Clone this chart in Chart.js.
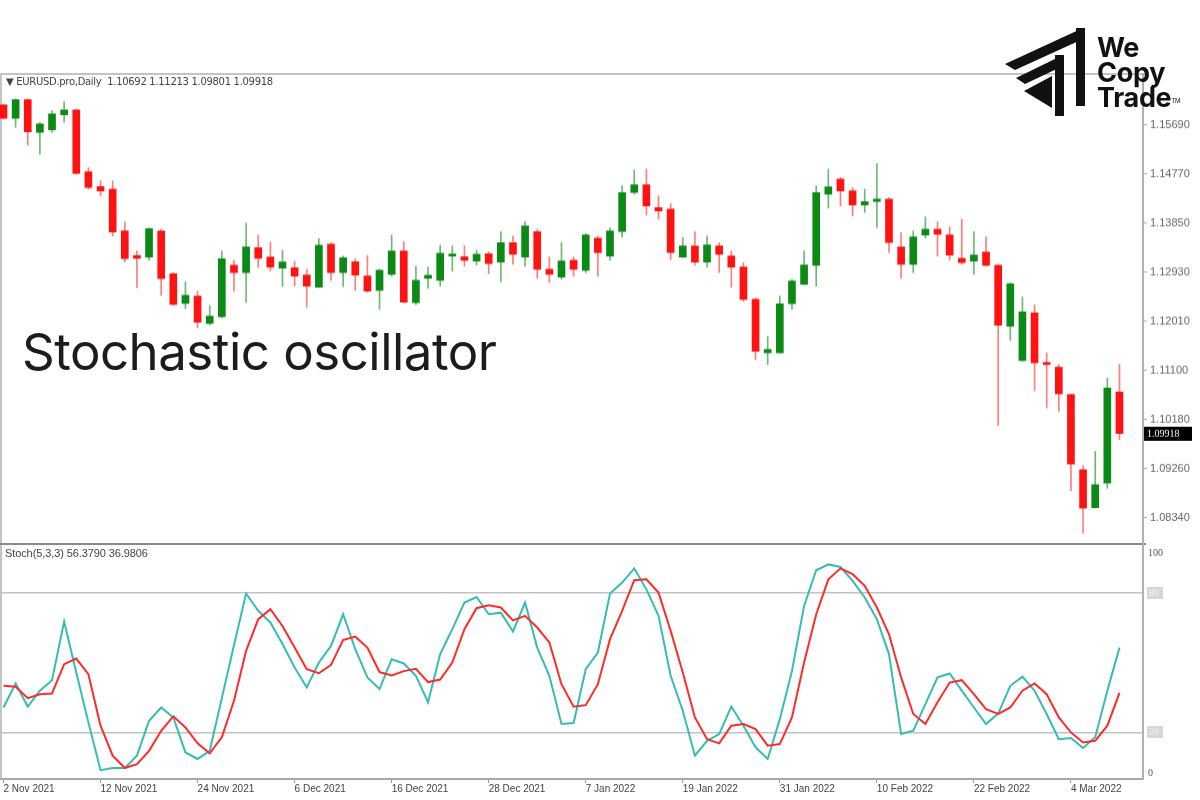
<!DOCTYPE html>
<html><head><meta charset="utf-8">
<script src="https://cdn.jsdelivr.net/npm/chart.js@4/dist/chart.umd.min.js"></script>
<style>
html,body{margin:0;padding:0;background:#fff;width:1200px;height:800px;overflow:hidden;font-family:'Liberation Sans',Arial,sans-serif;}
#c1{position:absolute;left:0;top:75px;}
#c2{position:absolute;left:0;top:546px;}
.frameTop{position:absolute;left:0;top:73px;width:1145px;height:2px;background:#c4c4c4;}
.frameLeft{position:absolute;left:0;top:73px;width:2px;height:707px;background:#c4c4c4;}
.frameRight{position:absolute;left:1142px;top:73px;width:2px;height:707px;background:#b0b0b0;}
.sep{position:absolute;left:0;top:543px;width:1146px;height:2px;background:#8a8a8a;}
#hdr{position:absolute;left:6px;top:76px;font-size:10px;color:#444;white-space:nowrap;font-family:'DejaVu Sans',sans-serif;letter-spacing:-0.3px;}
#shdr{position:absolute;left:5px;top:547px;font-size:11px;color:#444;white-space:nowrap;font-family:'Liberation Sans',sans-serif;letter-spacing:-0.1px;}
#big{position:absolute;left:22px;top:326px;font-family:'Inter',sans-serif;font-weight:400;color:#1c1c1c;white-space:nowrap;line-height:1;font-size:51px;}
#logoTxt{position:absolute;left:1097px;top:35px;font-family:'Inter',sans-serif;font-weight:700;color:#111;font-size:27px;line-height:25px;letter-spacing:-0.3px;}
#logoTxt sup{font-size:6px;vertical-align:top;position:relative;top:3px;font-weight:400;}
#logo{position:absolute;left:1000px;top:24px;}
</style></head>
<body>
<div class="frameTop"></div>
<div class="frameLeft"></div>
<canvas id="c1" width="1200" height="468"></canvas>
<canvas id="c2" width="1200" height="254"></canvas>
<div class="sep"></div>
<div class="frameRight"></div>
<div id="hdr">&#9660; EURUSD.pro,Daily&nbsp; 1.10692 1.11213 1.09801 1.09918</div>
<div id="shdr">Stoch(5,3,3) 56.3790 36.9806</div>
<div id="big">Stochastic oscillator</div>
<svg id="logo" width="92" height="96" viewBox="0 0 92 96">
  <polygon points="5,40 83,4 83,15 15,46" fill="#111"/>
  <polygon points="76,4 85,4 85,82 76,82" fill="#111"/>
  <polygon points="16,54 63,31 63,42 25,60" fill="#111"/>
  <polygon points="55,31 64,31 64,92 55,92" fill="#111"/>
  <polygon points="24,67 52,52 52,84" fill="#111"/>
</svg>
<div id="logoTxt">We<br>Copy<br>Trade<sup>TM</sup></div>
<script>
// ---- data ----
const tickLabels = ['2 Nov 2021','12 Nov 2021','24 Nov 2021','6 Dec 2021','16 Dec 2021','28 Dec 2021','7 Jan 2022','19 Jan 2022','31 Jan 2022','10 Feb 2022','22 Feb 2022','4 Mar 2022'];
const tickIndex = [0,8,16,24,32,40,48,56,64,72,80,88];
const priceTicks = [1.15690,1.14770,1.13850,1.12930,1.12010,1.11100,1.10180,1.09260,1.08340];
const opens = [1.16059,1.15809,1.16159,1.15546,1.15596,1.15877,1.15965,1.14809,1.14534,1.14484,
1.13703,1.13247,1.13216,1.13703,1.12904,1.12348,1.12485,1.11973,1.12098,1.13060,
1.12923,1.13391,1.13216,1.13010,1.13016,1.12879,1.12654,1.13454,1.12923,1.13129,
1.12860,1.12591,1.12891,1.13329,1.12360,1.12816,1.12779,1.13235,1.13223,1.13141,
1.13279,1.13123,1.13485,1.13216,1.13691,1.12985,1.12841,1.13154,1.12966,1.13566,
1.13235,1.13691,1.14422,1.14566,1.14141,1.14110,1.13216,1.13422,1.13123,1.13422,
1.13235,1.13029,1.12423,1.11423,1.11423,1.12342,1.12704,1.13060,1.14391,1.14672,
1.14453,1.14191,1.14253,1.14297,1.13404,1.13079,1.13629,1.13735,1.13629,1.13191,
1.13141,1.13310,1.13060,1.11923,1.11280,1.12173,1.11236,1.11155,1.10643,1.09237,
1.08531,1.08987,1.10692];
const highs = [1.16077,1.16171,1.16171,1.15734,1.15952,1.16121,1.15984,1.14890,1.14641,1.14641,
1.13872,1.13329,1.13766,1.13735,1.12923,1.12754,1.12579,1.12310,1.13329,1.13160,
1.13847,1.13622,1.13497,1.13341,1.13135,1.12985,1.13560,1.13485,1.13235,1.13185,
1.13247,1.12985,1.13622,1.13504,1.13048,1.13029,1.13435,1.13423,1.13423,1.13341,
1.13316,1.13691,1.13610,1.13878,1.13735,1.13216,1.13485,1.13216,1.13654,1.13610,
1.13766,1.14547,1.14841,1.14859,1.14360,1.14216,1.13579,1.13691,1.13610,1.13485,
1.13329,1.13110,1.12454,1.11736,1.12485,1.12798,1.13329,1.14547,1.14859,1.14703,
1.14516,1.14484,1.14965,1.14328,1.13672,1.13704,1.13966,1.13879,1.13779,1.13922,
1.13691,1.13591,1.13079,1.12736,1.12467,1.12317,1.11423,1.11205,1.10655,1.09318,
1.09580,1.10955,1.11213];
const lows = [1.15796,1.15640,1.15309,1.15140,1.15546,1.15734,1.14765,1.14484,1.14360,1.13610,
1.13123,1.12641,1.13160,1.12498,1.12310,1.12248,1.11892,1.11948,1.12079,1.12579,
1.12360,1.13016,1.12954,1.12660,1.12673,1.12279,1.12641,1.12779,1.12660,1.12598,
1.12560,1.12235,1.12860,1.12360,1.12323,1.12629,1.12673,1.12954,1.13048,1.13066,
1.12904,1.12754,1.13079,1.13048,1.12816,1.12735,1.12798,1.12860,1.12923,1.12860,
1.13154,1.13591,1.14391,1.14003,1.13922,1.13173,1.13204,1.13066,1.13029,1.12923,
1.12654,1.12392,1.11298,1.11205,1.11423,1.12236,1.12704,1.12673,1.14128,1.14172,
1.13985,1.14047,1.13766,1.13298,1.12817,1.12923,1.13566,1.13235,1.13154,1.13079,
1.12892,1.13048,1.10067,1.11655,1.11267,1.10717,1.10393,1.10330,1.08843,1.08050,
1.08519,1.08893,1.09801];
const closes = [1.15809,1.16159,1.15559,1.15702,1.15890,1.15965,1.14778,1.14516,1.14453,1.13685,
1.13185,1.13191,1.13747,1.12810,1.12329,1.12498,1.11998,1.12110,1.13185,1.12923,
1.13404,1.13191,1.13029,1.13123,1.12860,1.12673,1.13435,1.12923,1.13204,1.12879,
1.12579,1.12966,1.13329,1.12373,1.12779,1.12873,1.13285,1.13266,1.13154,1.13266,
1.13091,1.13485,1.13266,1.13797,1.12985,1.12891,1.13141,1.12985,1.13629,1.13298,
1.13703,1.14422,1.14566,1.14172,1.14078,1.13298,1.13422,1.13123,1.13441,1.13266,
1.13029,1.12423,1.11455,1.11486,1.12342,1.12767,1.13066,1.14422,1.14528,1.14453,
1.14191,1.14253,1.14297,1.13485,1.13079,1.13591,1.13735,1.13641,1.13254,1.13110,
1.13254,1.13060,1.11942,1.12717,1.12192,1.11236,1.11205,1.10655,1.09343,1.08519,
1.08956,1.10768,1.09918];
const stochK = [30.7,41.0,31.1,37.9,42.4,67.6,45.7,24.3,3.8,4.7,
4.7,10.0,25.0,30.7,26.4,11.4,8.6,12.1,34.7,57.4,
79.6,72.2,67.2,57.9,47.9,39.3,50.0,57.1,70.7,55.7,
43.6,38.6,51.4,49.6,44.3,32.9,53.6,64.3,75.7,78.1,
70.7,71.4,63.3,75.7,56.4,44.3,23.6,24.0,47.1,54.3,
79.6,84.3,90.4,81.4,70.0,44.3,29.3,10.0,16.4,19.3,
31.1,22.9,13.6,8.6,25.7,46.4,74.3,89.6,92.1,91.0,
85.0,77.9,68.6,53.6,19.3,20.7,32.1,43.6,45.3,37.9,
30.7,23.6,28.1,40.0,43.9,37.9,27.9,17.1,17.6,13.3,
17.9,37.9,56.38];
const stochD = [40.0,39.6,34.7,36.4,36.7,49.3,51.7,45.0,22.9,10.0,
4.7,6.4,12.1,20.7,26.9,22.1,15.3,11.0,17.9,33.6,
55.0,68.6,72.9,65.7,56.4,47.1,45.4,49.0,59.6,61.1,
56.4,45.9,44.4,46.3,47.3,41.6,42.7,50.0,64.3,73.3,
74.6,73.6,68.1,70.0,65.0,58.6,40.7,31.0,31.7,40.7,
60.0,72.2,85.3,85.7,80.0,63.6,45.7,26.4,17.1,15.3,
22.9,23.6,21.4,14.3,15.0,26.4,50.0,70.7,85.7,90.4,
87.9,82.9,73.6,62.1,43.6,27.9,23.6,32.9,41.4,42.4,
36.4,30.0,27.9,30.7,37.9,41.0,36.4,26.4,20.0,15.7,
16.4,22.9,36.98];

// ---- build ----
const UP = '#0b8a16', DN = '#ff1212';
const UPW = 'rgba(11,138,22,0.6)', DNW = 'rgba(255,18,18,0.55)';
const bodies = opens.map((o,i)=>({x:i, y:[o, closes[i]]}));
const wicks = opens.map((o,i)=>({x:i, y:[lows[i], highs[i]]}));
const isUp = opens.map((o,i)=>closes[i]>=o);
const X_MIN = -0.2885, X_MAX = 93.94;
const PANEL_TOP = 75, PANEL_H = 468;

const priceBox = {
  id:'priceBox',
  afterDraw(chart){
    const ctx = chart.ctx, y = chart.scales.y.getPixelForValue(closes[closes.length-1]);
    ctx.save();
    ctx.fillStyle = '#000';
    ctx.fillRect(1144, Math.round(y)-7, 48, 14);
    ctx.fillStyle = '#fff';
    ctx.font = '10px "Liberation Serif", serif';
    ctx.textBaseline = 'middle';
    ctx.textAlign = 'left';
    ctx.fillText(closes[closes.length-1].toFixed(5), 1147, Math.round(y)+0.5);
    ctx.restore();
  }
};

const cv1 = document.getElementById('c1');
const ch1 = new Chart(cv1, {
  type:'bar',
  data:{datasets:[
    {data:bodies, backgroundColor:isUp.map(u=>u?UP:DN), barThickness:7, grouped:false, order:1, minBarLength:2, borderWidth:0},
    {data:wicks, backgroundColor:isUp.map(u=>u?UPW:DNW), barThickness:1, grouped:false, order:2, borderWidth:0}
  ]},
  options:{
    responsive:false, maintainAspectRatio:false, animation:false, devicePixelRatio:1,
    layout:{padding:0, autoPadding:false},
    plugins:{legend:{display:false}, tooltip:{enabled:false}},
    scales:{
      x:{type:'linear', min:X_MIN, max:X_MAX, display:false, offset:false},
      y:{position:'right', min:1.07838, max:1.16608,
        afterFit(s){s.width=57;},
        afterBuildTicks(s){s.ticks = priceTicks.map(v=>({value:v}));},
        ticks:{callback:v=>Number(v).toFixed(5), font:{family:'Liberation Sans', size:11}, color:'#666', padding:3, autoSkip:false},
        grid:{drawOnChartArea:false, tickLength:4, color:'#aaa'},
        border:{display:false}
      }
    }
  },
  plugins:[priceBox]
});
// make the plot area span exactly the panel
(function(){
  const ca = ch1.chartArea;
  const padTop = ca.top, padBot = PANEL_H - ca.bottom;
  if (padTop > 0.5 || padBot > 0.5) {
    cv1.style.top = (PANEL_TOP - padTop + 1) + 'px';
    ch1.resize(1200, PANEL_H + padTop + padBot);
  }
})();

const stochLabels = {
  id:'stochLabels',
  afterDraw(chart){
    const ctx = chart.ctx, y = chart.scales.y;
    ctx.save();
    ctx.font = '10px "Liberation Serif", serif';
    ctx.textAlign = 'left';
    ctx.fillStyle = '#555';
    ctx.textBaseline = 'top';
    ctx.fillText('100', 1148, y.getPixelForValue(100)+2);
    ctx.textBaseline = 'bottom';
    ctx.fillText('0', 1148, y.getPixelForValue(0)-1);
    [80,20].forEach(v=>{
      const py = Math.round(y.getPixelForValue(v));
      ctx.fillStyle = '#d6d6d6';
      ctx.fillRect(1147, py-6, 16, 12);
      ctx.fillStyle = '#f2f2f2';
      ctx.textBaseline = 'middle';
      ctx.fillText(String(v), 1149, py);
    });
    ctx.restore();
  }
};

new Chart(document.getElementById('c2'), {
  type:'line',
  data:{datasets:[
    {data:stochD.map((v,i)=>({x:i,y:v})), borderColor:'#ff2a2a', borderWidth:2, pointRadius:0, tension:0, order:0},
    {data:stochK.map((v,i)=>({x:i,y:v})), borderColor:'#36bdb2', borderWidth:2, pointRadius:0, tension:0, order:1}
  ]},
  options:{
    responsive:false, animation:false, devicePixelRatio:1,
    layout:{padding:0, autoPadding:false},
    plugins:{legend:{display:false}, tooltip:{enabled:false}},
    scales:{
      x:{type:'linear', min:X_MIN, max:X_MAX, position:'bottom',
        afterFit(s){s.height=21;},
        afterBuildTicks(s){s.ticks = tickIndex.map(v=>({value:v}));},
        ticks:{callback:v=>tickLabels[tickIndex.indexOf(v)], align:'start', maxRotation:0, autoSkip:false, font:{family:'Liberation Sans', size:10}, color:'#444', padding:0},
        grid:{drawOnChartArea:false, tickLength:4, color:'#999'},
        border:{color:'#a8a8a8', width:2}
      },
      y:{position:'right', min:0, max:100,
        afterFit(s){s.width=57;},
        afterBuildTicks(s){s.ticks = [20,80].map(v=>({value:v}));},
        ticks:{display:false},
        grid:{color:'#c2c2c2', lineWidth:1.5, drawTicks:false},
        border:{display:false}
      }
    }
  },
  plugins:[stochLabels]
});

// fit big caption width with letter spacing
(function(){
  const el = document.getElementById('big');
  const c = document.createElement('canvas').getContext('2d');
  c.font = '400 51px Inter';
  const w = c.measureText(el.textContent).width;
  const n = el.textContent.length - 1;
  el.style.letterSpacing = ((475 - w)/n).toFixed(2)+'px';
})();
</script>
</body></html>
